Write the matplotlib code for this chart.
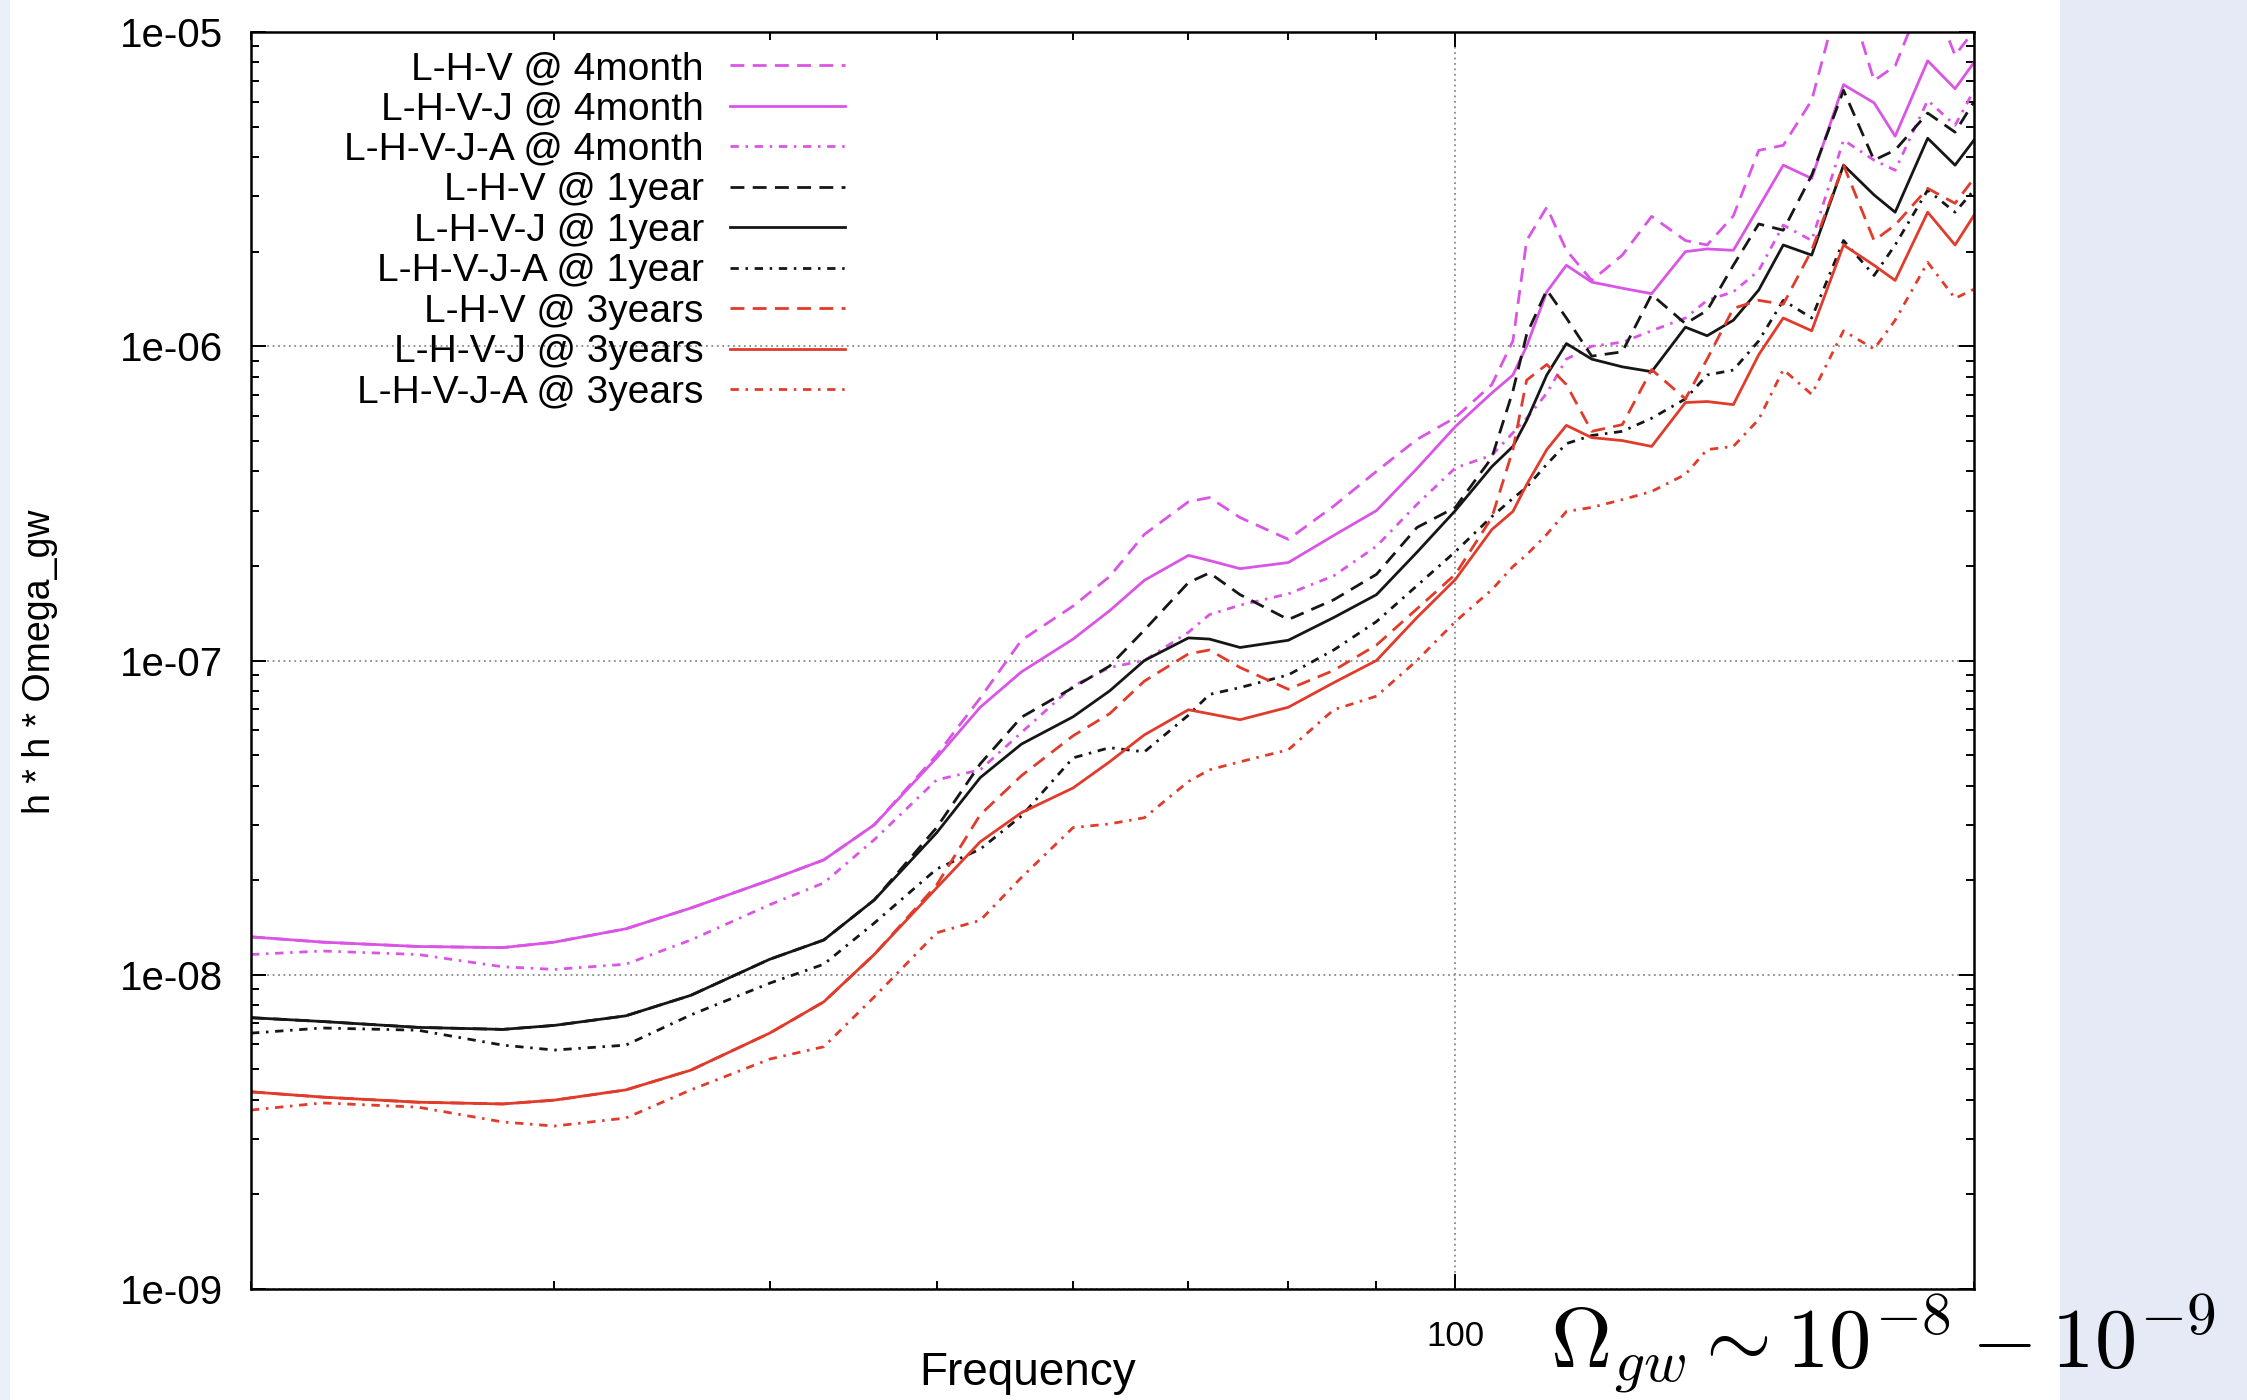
import numpy as np
import matplotlib
matplotlib.use("Agg")
import matplotlib.pyplot as plt
from matplotlib.patches import Rectangle
from matplotlib.ticker import FixedLocator, NullFormatter, FuncFormatter, LogLocator

# ---------------- data ----------------
freq = [20, 22, 25, 28, 30, 33, 36, 40, 43, 46, 50, 53, 56, 60, 63, 66, 70, 72, 75, 80,
        85, 90, 95, 100, 105, 108, 110, 113, 116, 120, 125, 130, 136, 140, 145, 150,
        155, 161, 168, 175, 180, 188, 195, 200]

lhv_4m = [1.32e-8, 1.27e-8, 1.23e-8, 1.22e-8, 1.27e-8, 1.40e-8, 1.63e-8, 2.0e-8, 2.32e-8, 3.0e-8,
          5.0e-8, 7.6e-8, 1.16e-7, 1.49e-7, 1.85e-7, 2.52e-7, 3.2e-7, 3.3e-7, 2.85e-7, 2.43e-7,
          3.1e-7, 4.0e-7, 5.05e-7, 5.93e-7, 7.55e-7, 1.04e-6, 2.17e-6, 2.77e-6, 2.02e-6, 1.62e-6,
          1.95e-6, 2.59e-6, 2.17e-6, 2.10e-6, 2.6e-6, 4.2e-6, 4.36e-6, 6.06e-6, 1.46e-5, 7.0e-6,
          7.8e-6, 1.41e-5, 8.43e-6, 1.01e-5]
lhvj_4m = [1.32e-8, 1.27e-8, 1.23e-8, 1.22e-8, 1.27e-8, 1.40e-8, 1.63e-8, 2.0e-8, 2.32e-8, 3.0e-8,
           4.9e-8, 7.1e-8, 9.2e-8, 1.17e-7, 1.44e-7, 1.80e-7, 2.16e-7, 2.08e-7, 1.96e-7, 2.05e-7,
           2.50e-7, 3.0e-7, 4.08e-7, 5.55e-7, 7.1e-7, 8.1e-7, 1.0e-6, 1.49e-6, 1.81e-6, 1.60e-6,
           1.53e-6, 1.47e-6, 2.0e-6, 2.04e-6, 2.02e-6, 2.77e-6, 3.77e-6, 3.42e-6, 6.8e-6, 5.95e-6,
           4.66e-6, 8.1e-6, 6.6e-6, 8.0e-6]
lhvja_4m = [1.16e-8, 1.19e-8, 1.16e-8, 1.06e-8, 1.04e-8, 1.08e-8, 1.29e-8, 1.67e-8, 1.96e-8, 2.69e-8,
            4.17e-8, 4.49e-8, 5.9e-8, 8.3e-8, 9.5e-8, 1.0e-7, 1.23e-7, 1.40e-7, 1.50e-7, 1.63e-7,
            1.86e-7, 2.31e-7, 3.14e-7, 4.1e-7, 4.5e-7, 5.3e-7, 5.9e-7, 7.09e-7, 9.1e-7, 1.0e-6,
            1.03e-6, 1.12e-6, 1.23e-6, 1.40e-6, 1.49e-6, 1.74e-6, 2.43e-6, 2.17e-6, 4.53e-6, 3.91e-6,
            3.63e-6, 6.06e-6, 5.05e-6, 6.52e-6]

lhv_1y = [7.3e-9, 7.1e-9, 6.8e-9, 6.7e-9, 6.9e-9, 7.4e-9, 8.6e-9, 1.12e-8, 1.29e-8, 1.73e-8,
          2.94e-8, 4.69e-8, 6.6e-8, 8.2e-8, 9.6e-8, 1.25e-7, 1.77e-7, 1.90e-7, 1.62e-7, 1.35e-7,
          1.56e-7, 1.88e-7, 2.65e-7, 3.07e-7, 4.42e-7, 7.2e-7, 1.09e-6, 1.51e-6, 1.23e-6, 9.3e-7,
          9.6e-7, 1.46e-6, 1.18e-6, 1.30e-6, 1.81e-6, 2.45e-6, 2.34e-6, 3.50e-6, 6.52e-6, 3.91e-6,
          4.21e-6, 5.52e-6, 4.80e-6, 6.0e-6]
lhvj_1y = [7.3e-9, 7.1e-9, 6.8e-9, 6.7e-9, 6.9e-9, 7.4e-9, 8.6e-9, 1.12e-8, 1.29e-8, 1.73e-8,
           2.83e-8, 4.24e-8, 5.42e-8, 6.62e-8, 8.0e-8, 1.0e-7, 1.18e-7, 1.17e-7, 1.10e-7, 1.16e-7,
           1.37e-7, 1.62e-7, 2.21e-7, 3.0e-7, 4.14e-7, 4.8e-7, 5.8e-7, 8.1e-7, 1.02e-6, 9.1e-7,
           8.6e-7, 8.3e-7, 1.15e-6, 1.08e-6, 1.21e-6, 1.51e-6, 2.10e-6, 1.95e-6, 3.77e-6, 3.03e-6,
           2.67e-6, 4.59e-6, 3.77e-6, 4.53e-6]
lhvja_1y = [6.52e-9, 6.77e-9, 6.66e-9, 5.97e-9, 5.76e-9, 5.97e-9, 7.45e-9, 9.4e-9, 1.08e-8, 1.46e-8,
            2.17e-8, 2.51e-8, 3.2e-8, 4.9e-8, 5.28e-8, 5.12e-8, 6.7e-8, 7.8e-8, 8.2e-8, 9.0e-8,
            1.08e-7, 1.33e-7, 1.73e-7, 2.22e-7, 2.87e-7, 3.28e-7, 3.56e-7, 4.21e-7, 4.9e-7, 5.2e-7,
            5.36e-7, 5.9e-7, 6.8e-7, 8.1e-7, 8.4e-7, 1.04e-6, 1.40e-6, 1.23e-6, 2.17e-6, 1.68e-6,
            2.10e-6, 3.14e-6, 2.67e-6, 3.14e-6]

lhv_3y = [4.24e-9, 4.08e-9, 3.93e-9, 3.88e-9, 3.99e-9, 4.30e-9, 4.97e-9, 6.52e-9, 8.2e-9, 1.16e-8,
          1.93e-8, 3.23e-8, 4.30e-8, 5.76e-8, 6.77e-8, 8.6e-8, 1.05e-7, 1.08e-7, 9.5e-8, 8.1e-8,
          9.3e-8, 1.12e-7, 1.46e-7, 1.88e-7, 2.85e-7, 4.69e-7, 7.8e-7, 8.75e-7, 7.55e-7, 5.36e-7,
          5.63e-7, 8.43e-7, 6.8e-7, 9.1e-7, 1.32e-6, 1.40e-6, 1.36e-6, 2.02e-6, 3.77e-6, 2.17e-6,
          2.43e-6, 3.18e-6, 2.85e-6, 3.42e-6]
lhvj_3y = [4.24e-9, 4.08e-9, 3.93e-9, 3.88e-9, 3.99e-9, 4.30e-9, 4.97e-9, 6.52e-9, 8.2e-9, 1.16e-8,
           1.89e-8, 2.65e-8, 3.28e-8, 3.93e-8, 4.76e-8, 5.8e-8, 6.97e-8, 6.77e-8, 6.48e-8, 7.1e-8,
           8.5e-8, 1.0e-7, 1.37e-7, 1.81e-7, 2.61e-7, 2.98e-7, 3.63e-7, 4.69e-7, 5.6e-7, 5.12e-7,
           5.01e-7, 4.8e-7, 6.62e-7, 6.67e-7, 6.52e-7, 9.4e-7, 1.23e-6, 1.12e-6, 2.10e-6, 1.81e-6,
           1.62e-6, 2.67e-6, 2.10e-6, 2.61e-6]
lhvja_3y = [3.71e-9, 3.91e-9, 3.79e-9, 3.40e-9, 3.30e-9, 3.50e-9, 4.30e-9, 5.39e-9, 5.9e-9, 8.5e-9,
            1.36e-8, 1.49e-8, 2.04e-8, 2.94e-8, 3.02e-8, 3.16e-8, 4.12e-8, 4.49e-8, 4.76e-8, 5.2e-8,
            6.97e-8, 7.7e-8, 1.0e-7, 1.33e-7, 1.68e-7, 1.99e-7, 2.17e-7, 2.52e-7, 2.98e-7, 3.07e-7,
            3.25e-7, 3.45e-7, 3.91e-7, 4.69e-7, 4.8e-7, 5.85e-7, 8.43e-7, 7.03e-7, 1.12e-6, 9.8e-7,
            1.21e-6, 1.85e-6, 1.42e-6, 1.52e-6]

labels = ["L-H-V @ 4month", "L-H-V-J @ 4month", "L-H-V-J-A @ 4month",
          "L-H-V @ 1year", "L-H-V-J @ 1year", "L-H-V-J-A @ 1year",
          "L-H-V @ 3years", "L-H-V-J @ 3years", "L-H-V-J-A @ 3years"]
series = [lhv_4m, lhvj_4m, lhvja_4m, lhv_1y, lhvj_1y, lhvja_1y, lhv_3y, lhvj_3y, lhvja_3y]

ytick_vals = [1e-9, 1e-8, 1e-7, 1e-6, 1e-5]
xtick_major = [100]
xtick_minor = [20, 30, 40, 50, 60, 70, 80, 90, 200]

# ---------------- styles ----------------
MAG = "#da55e6"
BLK = "#161616"
RED = "#e03b2b"
colors = [MAG, MAG, MAG, BLK, BLK, BLK, RED, RED, RED]
dashed = (0, (5.0, 3.0))
dashdot = (0, (3.0, 2.4, 0.9, 2.4))
styles = [dashed, "-", dashdot] * 3

FONT = ["Liberation Sans", "DejaVu Sans"]
plt.rcParams["font.family"] = FONT
plt.rcParams["mathtext.fontset"] = "cm"

W, H = 2247, 1400
fig = plt.figure(figsize=(W / 100, H / 100), dpi=100)
fig.patch.set_facecolor("white")

# slide background strips
fig.patches.append(Rectangle((2060 / W, 0), 1 - 2060 / W, 1, transform=fig.transFigure,
                             facecolor="#e5eaf6", edgecolor="none", zorder=-10))
fig.patches.append(Rectangle((0, 0), 10 / W, 1, transform=fig.transFigure,
                             facecolor="#eaf0fa", edgecolor="none", zorder=-10))

L, R, T, B = 251, 1974, 32, 1289
ax = fig.add_axes([L / W, 1 - B / H, (R - L) / W, (B - T) / H])
ax.set_facecolor("white")

for vals, lab, c, ls in zip(series, labels, colors, styles):
    ax.plot(freq, vals, color=c, linestyle=ls, linewidth=2.0, label=lab,
            solid_joinstyle="round", dash_capstyle="butt")

ax.set_xscale("log")
ax.set_yscale("log")
ax.set_xlim(20, 200)
ax.set_ylim(1e-9, 1e-5)

ax.xaxis.set_major_locator(FixedLocator(xtick_major))
ax.xaxis.set_minor_locator(FixedLocator(xtick_minor))
ax.xaxis.set_major_formatter(FuncFormatter(lambda v, p: f"{v:.0f}"))
ax.xaxis.set_minor_formatter(NullFormatter())
ax.yaxis.set_major_locator(FixedLocator(ytick_vals))
ax.yaxis.set_minor_locator(LogLocator(base=10, subs=np.arange(2, 10), numticks=20))
ax.yaxis.set_major_formatter(FuncFormatter(lambda v, p: f"{v:.0e}"))
ax.yaxis.set_minor_formatter(NullFormatter())

ax.grid(True, which="major", color="#8a8a8a", linestyle=(0, (1, 2)), linewidth=1.3)
ax.tick_params(which="both", direction="in", top=True, right=True, width=1.4, color="black")
ax.tick_params(which="major", length=11)
ax.tick_params(which="minor", length=6)
ax.tick_params(axis="y", which="major", labelsize=29, pad=20)
ax.tick_params(axis="x", which="major", labelsize=25, pad=22)
for s in ax.spines.values():
    s.set_linewidth(1.8)
    s.set_color("black")

leg = ax.legend(loc="upper right", bbox_to_anchor=(845 / W, 1 - 51 / H),
                bbox_transform=fig.transFigure, frameon=False, markerfirst=False,
                fontsize=28, handlelength=2.96, handletextpad=0.67, labelspacing=0.115,
                borderpad=0, borderaxespad=0)

fig.text(40 / W, 1 - 662 / H, "h * h * Omega_gw", rotation=90, ha="center", va="center",
         fontsize=27)
fig.text(1028 / W, 1 - 1385 / H, "Frequency", ha="center", va="baseline", fontsize=33)
fig.text(1550 / W, 1 - 1366 / H, r"$\Omega_{gw} \sim 10^{-8} - 10^{-9}$", ha="left",
         va="baseline", fontsize=61)

fig.savefig("out.png", dpi=100, facecolor=fig.get_facecolor())
